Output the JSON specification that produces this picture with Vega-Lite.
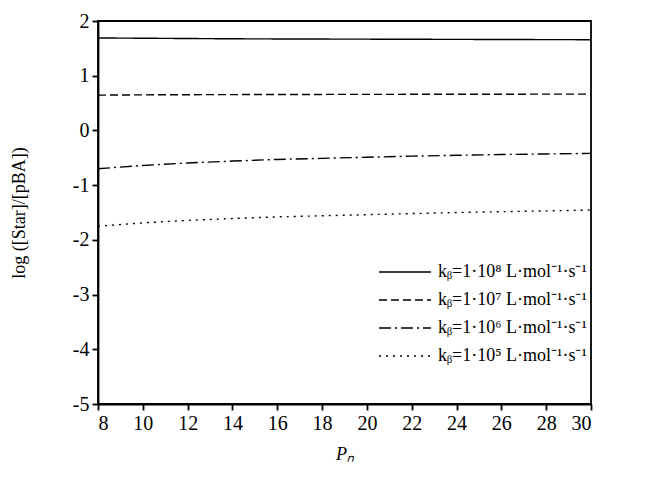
{
  "$schema": "https://vega.github.io/schema/vega-lite/v6.json",
  "width": 493,
  "height": 383,
  "autosize": "none",
  "padding": {"left": 98, "top": 21, "right": 54, "bottom": 76},
  "background": "white",
  "config": {
    "view": {"stroke": "black", "strokeWidth": 1.8},
    "font": "Liberation Serif",
    "axis": {"grid": false, "domainColor": "black", "domainWidth": 1.8, "tickColor": "black", "tickWidth": 1.8, "tickSize": 6, "labelColor": "black", "titleColor": "black", "titleFontWeight": "normal"}
  },
  "data": {"values": [
    {"P": 8, "v": 1.69, "k": "a"}, {"P": 10, "v": 1.685, "k": "a"}, {"P": 12, "v": 1.68, "k": "a"}, {"P": 14, "v": 1.675, "k": "a"}, {"P": 16, "v": 1.672, "k": "a"}, {"P": 18, "v": 1.67, "k": "a"}, {"P": 20, "v": 1.668, "k": "a"}, {"P": 22, "v": 1.666, "k": "a"}, {"P": 24, "v": 1.664, "k": "a"}, {"P": 26, "v": 1.662, "k": "a"}, {"P": 28, "v": 1.66, "k": "a"}, {"P": 30, "v": 1.658, "k": "a"},
    {"P": 8, "v": 0.645, "k": "b"}, {"P": 10, "v": 0.65, "k": "b"}, {"P": 12, "v": 0.653, "k": "b"}, {"P": 14, "v": 0.655, "k": "b"}, {"P": 16, "v": 0.657, "k": "b"}, {"P": 18, "v": 0.658, "k": "b"}, {"P": 20, "v": 0.659, "k": "b"}, {"P": 22, "v": 0.66, "k": "b"}, {"P": 24, "v": 0.661, "k": "b"}, {"P": 26, "v": 0.662, "k": "b"}, {"P": 28, "v": 0.663, "k": "b"}, {"P": 30, "v": 0.664, "k": "b"},
    {"P": 8, "v": -0.70, "k": "c"}, {"P": 10, "v": -0.64, "k": "c"}, {"P": 12, "v": -0.595, "k": "c"}, {"P": 14, "v": -0.56, "k": "c"}, {"P": 16, "v": -0.53, "k": "c"}, {"P": 18, "v": -0.51, "k": "c"}, {"P": 20, "v": -0.49, "k": "c"}, {"P": 22, "v": -0.47, "k": "c"}, {"P": 24, "v": -0.455, "k": "c"}, {"P": 26, "v": -0.44, "k": "c"}, {"P": 28, "v": -0.43, "k": "c"}, {"P": 30, "v": -0.42, "k": "c"},
    {"P": 8, "v": -1.75, "k": "d"}, {"P": 10, "v": -1.69, "k": "d"}, {"P": 12, "v": -1.645, "k": "d"}, {"P": 14, "v": -1.61, "k": "d"}, {"P": 16, "v": -1.58, "k": "d"}, {"P": 18, "v": -1.56, "k": "d"}, {"P": 20, "v": -1.54, "k": "d"}, {"P": 22, "v": -1.52, "k": "d"}, {"P": 24, "v": -1.5, "k": "d"}, {"P": 26, "v": -1.485, "k": "d"}, {"P": 28, "v": -1.47, "k": "d"}, {"P": 30, "v": -1.455, "k": "d"}
  ]},
  "mark": {"type": "line", "color": "black", "strokeWidth": 1.4},
  "encoding": {
    "x": {"field": "P", "type": "quantitative", "scale": {"domain": [8, 30], "nice": false, "zero": false}, "axis": {"values": [8, 10, 12, 14, 16, 18, 20, 22, 24, 26, 28, 30], "labelFont": "Liberation Serif", "labelFontSize": 20, "titleFont": "Liberation Serif", "titleFontSize": 18, "title": "Pₙ", "titleFontStyle": "italic", "titlePadding": 12, "labelPadding": 3}},
    "y": {"field": "v", "type": "quantitative", "scale": {"domain": [-5, 2], "nice": false}, "axis": {"values": [-5, -4, -3, -2, -1, 0, 1, 2], "labelFont": "Liberation Serif", "labelFontSize": 20, "titleFont": "Liberation Serif", "titleFontSize": 18, "labelExpr": "toString(datum.value)", "title": "log ([Star]/[pBA])", "titlePadding": 44, "labelPadding": 3}},
    "strokeDash": {"field": "k", "type": "nominal", "scale": {"domain": ["a", "b", "c", "d"], "range": [[1, 0], [8, 4], [12, 4, 2, 4], [2, 5]]},
      "legend": {"orient": "none", "legendX": 280, "legendY": 242, "title": null, "symbolType": "stroke", "symbolSize": 2704, "clipHeight": 18, "symbolStrokeColor": "black", "symbolStrokeWidth": 1.4, "labelFont": "Liberation Serif", "labelFontSize": 18, "labelColor": "black", "rowPadding": 10, "labelOffset": 6,
        "labelExpr": "datum.value == 'a' ? 'kᵦ=1·10⁸ L·mol⁻¹·s⁻¹' : datum.value == 'b' ? 'kᵦ=1·10⁷ L·mol⁻¹·s⁻¹' : datum.value == 'c' ? 'kᵦ=1·10⁶ L·mol⁻¹·s⁻¹' : 'kᵦ=1·10⁵ L·mol⁻¹·s⁻¹'"}}
  }
}
